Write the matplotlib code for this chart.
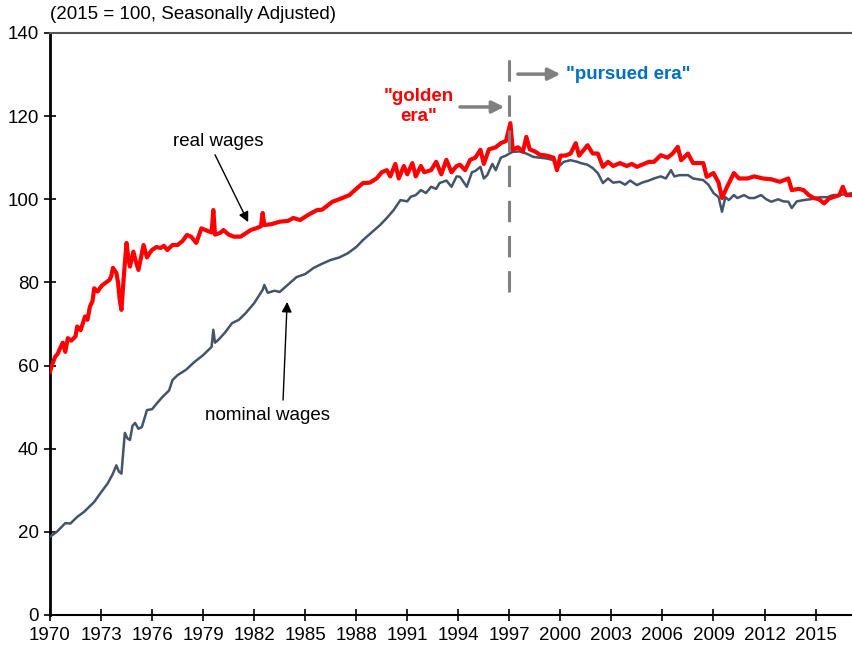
import matplotlib.pyplot as plt

plt.rcParams['font.family'] = ['Liberation Sans', 'DejaVu Sans']

# 実質賃金 (real wages), 2015 = 100
real_years = [1970.0, 1970.15, 1970.3, 1970.45, 1970.6, 1970.75, 1970.9, 1971.05, 1971.25, 1971.5,
              1971.6, 1971.8, 1972.06, 1972.2, 1972.35, 1972.5, 1972.6, 1972.8, 1973.0, 1973.1,
              1973.3, 1973.5, 1973.6, 1973.7, 1973.9, 1974.0, 1974.1, 1974.2, 1974.35, 1974.5,
              1974.6, 1974.7, 1974.9, 1975.05, 1975.2, 1975.35, 1975.5, 1975.7, 1975.85, 1976.0,
              1976.25, 1976.5, 1976.7, 1976.9, 1977.2, 1977.5, 1977.8, 1978.05, 1978.3, 1978.6,
              1978.9, 1979.2, 1979.5, 1979.6, 1979.7, 1980.0, 1980.2, 1980.5, 1980.8, 1981.2,
              1981.5, 1981.8, 1982.1, 1982.4, 1982.5, 1982.6, 1983.0, 1983.5, 1984.0, 1984.3,
              1984.7, 1985.2, 1985.7, 1986.0, 1986.6, 1987.0, 1987.6, 1988.0, 1988.4, 1988.8,
              1989.2, 1989.5, 1989.8, 1990.0, 1990.3, 1990.5, 1990.8, 1991.0, 1991.3, 1991.5,
              1991.8, 1992.0, 1992.4, 1992.7, 1993.0, 1993.3, 1993.6, 1993.9, 1994.1, 1994.4,
              1994.7, 1995.0, 1995.3, 1995.5, 1995.8, 1996.2, 1996.5, 1996.8, 1997.06, 1997.2,
              1997.5, 1997.8, 1998.0, 1998.2, 1998.5, 1998.8, 1999.2, 1999.6, 1999.8, 2000.0,
              2000.3, 2000.6, 2000.9, 2001.1, 2001.6, 2001.9, 2002.2, 2002.5, 2002.8, 2003.1,
              2003.5, 2003.9, 2004.2, 2004.5, 2004.9, 2005.2, 2005.5, 2005.9, 2006.3, 2006.6,
              2006.9, 2007.1, 2007.5, 2007.8, 2008.1, 2008.4, 2008.6, 2009.0, 2009.3, 2009.5,
              2009.8, 2010.2, 2010.5, 2011.0, 2011.4, 2011.9, 2012.4, 2012.9, 2013.4, 2013.6,
              2014.0, 2014.3, 2014.6, 2014.9, 2015.2, 2015.5, 2015.8, 2016.1, 2016.4, 2016.6,
              2016.8, 2017.2]
real_wages = [58.5, 60.5, 62.1, 62.8, 64.2, 65.5, 63.3, 66.6, 66.0, 67.0,
              69.4, 68.5, 71.8, 71.0, 74.2, 75.5, 78.6, 77.8, 79.0, 79.4,
              80.0, 80.6, 81.5, 83.5, 82.3, 80.0, 75.8, 73.4, 82.0, 89.5,
              86.0, 83.8, 87.4, 85.0, 83.0, 86.0, 89.0, 86.0, 87.0, 87.8,
              88.5, 88.3, 88.8, 87.8, 89.0, 89.0, 90.0, 91.4, 91.0, 89.5,
              93.0, 92.5, 92.0, 97.4, 91.5, 91.9, 92.6, 91.5, 91.0, 91.0,
              91.8, 92.6, 93.0, 93.5, 96.7, 93.8, 94.0, 94.6, 94.8, 95.5,
              95.0, 96.3, 97.4, 97.5, 99.4, 100.0, 101.0, 102.5, 103.9, 104.0,
              105.0, 106.5, 107.0, 105.5, 108.5, 105.0, 108.0, 106.0, 108.7, 105.5,
              108.0, 106.5, 107.0, 109.0, 106.0, 109.5, 106.5, 108.0, 108.3, 107.0,
              109.5, 110.0, 111.9, 108.5, 112.0, 112.5, 113.5, 114.0, 118.3, 111.9,
              112.5, 111.5, 115.0, 112.0, 111.5, 110.7, 110.5, 110.0, 107.0, 110.5,
              110.5, 111.0, 113.5, 110.5, 113.0, 111.0, 111.0, 107.8, 109.0, 108.0,
              108.7, 108.0, 108.5, 107.8, 108.5, 109.0, 109.0, 110.6, 110.0, 111.0,
              112.6, 109.4, 111.0, 108.7, 108.7, 108.7, 105.4, 106.3, 104.0, 100.3,
              103.0, 106.3, 105.0, 105.0, 105.5, 105.0, 104.8, 104.2, 105.0, 102.2,
              102.5, 102.2, 101.0, 100.3, 100.0, 99.0, 100.2, 100.6, 101.0, 103.0,
              101.0, 101.0]

# 名目賃金 (nominal wages)
nominal_years = [1970.0, 1970.4, 1970.9, 1971.2, 1971.6, 1972.0, 1972.3, 1972.6, 1973.0, 1973.4,
                 1973.7, 1973.9, 1974.05, 1974.2, 1974.4, 1974.55, 1974.7, 1974.85, 1975.0, 1975.2,
                 1975.4, 1975.7, 1976.0, 1976.3, 1976.6, 1977.0, 1977.2, 1977.5, 1978.0, 1978.5,
                 1979.0, 1979.5, 1979.6, 1979.7, 1979.9, 1980.3, 1980.7, 1981.1, 1981.5, 1982.0,
                 1982.5, 1982.6, 1982.8, 1983.2, 1983.5, 1984.0, 1984.5, 1985.0, 1985.5, 1986.0,
                 1986.5, 1987.0, 1987.5, 1988.0, 1988.4, 1988.9, 1989.4, 1989.8, 1990.2, 1990.6,
                 1991.0, 1991.2, 1991.5, 1991.8, 1992.1, 1992.4, 1992.7, 1992.9, 1993.3, 1993.6,
                 1993.9, 1994.1, 1994.5, 1994.8, 1995.0, 1995.3, 1995.5, 1995.7, 1996.0, 1996.2,
                 1996.5, 1996.8, 1997.0, 1997.2, 1997.6, 1998.0, 1998.4, 1998.8, 1999.2, 1999.6,
                 1999.8, 2000.2, 2000.6, 2001.0, 2001.2, 2001.6, 2001.9, 2002.2, 2002.5, 2002.8,
                 2003.1, 2003.5, 2003.8, 2004.1, 2004.5, 2004.8, 2005.2, 2005.5, 2005.9, 2006.2,
                 2006.5, 2006.7, 2007.0, 2007.5, 2007.8, 2008.1, 2008.4, 2008.7, 2009.0, 2009.3,
                 2009.5, 2009.7, 2009.9, 2010.2, 2010.4, 2010.8, 2011.1, 2011.4, 2011.8, 2012.1,
                 2012.4, 2012.8, 2013.1, 2013.4, 2013.6, 2013.9, 2014.3, 2014.7, 2015.0, 2015.3,
                 2015.7, 2016.0, 2016.3, 2016.7, 2017.2]
nominal_wages = [18.8, 20.0, 22.1, 22.0, 23.6, 24.8, 26.0, 27.2, 29.5, 31.7,
                 34.0, 36.0, 34.5, 34.0, 43.8, 42.5, 42.1, 45.5, 46.2, 44.8,
                 45.2, 49.3, 49.5, 51.0, 52.4, 54.0, 56.5, 57.7, 59.0, 60.9,
                 62.5, 64.5, 68.6, 65.5, 66.2, 68.0, 70.2, 71.0, 72.6, 75.0,
                 78.2, 79.4, 77.5, 78.0, 77.7, 79.5, 81.3, 82.0, 83.5, 84.5,
                 85.4, 86.0, 87.0, 88.5, 90.2, 92.0, 93.8, 95.5, 97.4, 99.8,
                 99.5, 100.6, 101.0, 102.2, 101.5, 103.0, 102.5, 103.9, 104.5, 103.0,
                 105.5, 105.4, 103.0, 106.5, 106.8, 107.8, 105.0, 105.8, 108.5, 107.0,
                 110.0, 110.5, 111.0, 111.4, 111.5, 111.0, 110.2, 110.0, 109.8, 109.4,
                 107.5, 109.0, 109.4, 109.0, 108.7, 108.3, 107.5, 106.3, 103.9, 105.0,
                 104.0, 104.2, 103.5, 104.5, 103.4, 104.0, 104.5, 105.0, 105.5, 105.0,
                 107.0, 105.5, 105.8, 105.8, 105.0, 104.8, 104.6, 103.5, 101.5, 100.5,
                 97.0, 100.5, 99.8, 101.0, 100.3, 101.0, 100.3, 100.3, 101.0, 100.0,
                 99.4, 100.0, 99.5, 99.4, 97.9, 99.5, 99.8, 100.0, 100.3, 100.5,
                 100.5, 101.0, 101.0, 101.2, 101.5]

x_ticks = list(range(1970, 2016, 3))
y_ticks = list(range(0, 141, 20))

fig = plt.figure(figsize=(8.53, 6.49), dpi=100)
ax = fig.add_axes([0.0586, 0.0524, 0.9414, 0.8968])

ax.plot(nominal_years, nominal_wages, color='#44546A', lw=1.8, zorder=3)
ax.plot(real_years, real_wages, color='#FF0000', lw=3.0, zorder=4)

# 1997 の区切り線
ax.plot([1997, 1997], [77.7, 136.4], color='#808080', lw=2.2, dashes=(7, 4.5), zorder=5)

ax.set_xlim(1970, 2017.2)
ax.set_ylim(0, 140)
ax.set_xticks(x_ticks)
ax.set_yticks(y_ticks)
ax.tick_params(axis='both', direction='inout', length=8, width=1.2, labelsize=13.5, colors='black')
ax.tick_params(axis='x', pad=5)
ax.tick_params(axis='y', pad=4)

ax.spines['left'].set_linewidth(2)
ax.spines['bottom'].set_linewidth(1.5)
ax.spines['top'].set_color('#555555')
ax.spines['top'].set_linewidth(1.5)
ax.spines['right'].set_visible(False)

fig.text(0.0586, 0.977, '(2015 = 100, Seasonally Adjusted)', fontsize=13.5, ha='left', va='center')

arrow_black = dict(arrowstyle='-|>', color='black', lw=1, mutation_scale=15, shrinkA=0, shrinkB=0)
ax.annotate('', xy=(1981.65, 94.5), xytext=(1979.7, 110.7), arrowprops=arrow_black)
ax.text(1979.9, 114.0, 'real wages', fontsize=13.5, ha='center', va='center')
ax.annotate('', xy=(1983.94, 75.3), xytext=(1983.7, 51.7), arrowprops=arrow_black)
ax.text(1982.76, 47.9, 'nominal wages', fontsize=13.5, ha='center', va='center')

arrow_gray = dict(arrowstyle='-|>', color='#808080', lw=2.5, mutation_scale=18, shrinkA=0, shrinkB=0)
ax.annotate('', xy=(1996.7, 122.2), xytext=(1994.1, 122.2), arrowprops=arrow_gray)
ax.text(1991.65, 122.3, '"golden\nera"', fontsize=13.5, fontweight='bold', color='#FF0000',
        ha='center', va='center', linespacing=1.2)
ax.annotate('', xy=(2000.0, 130.1), xytext=(1997.5, 130.1), arrowprops=arrow_gray)
ax.text(2000.35, 130.1, '"pursued era"', fontsize=13.5, fontweight='bold', color='#0070C0',
        ha='left', va='center')

fig.savefig('out.png', dpi=100)
